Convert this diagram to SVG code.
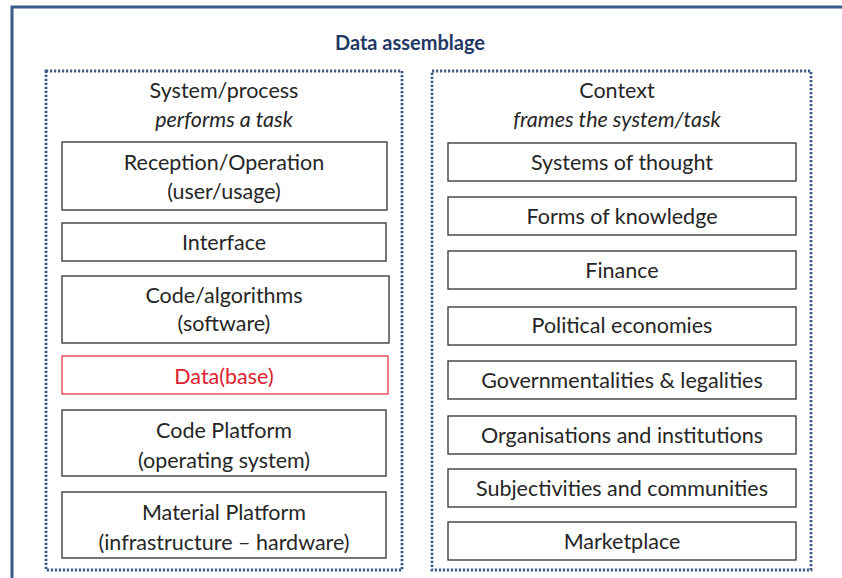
<svg xmlns="http://www.w3.org/2000/svg" width="842" height="578" viewBox="0 0 842 578">
<style>
  text { font-family: Lato, "Open Sans", "Liberation Sans", sans-serif; font-size: 21.5px; fill: #262626; text-anchor: middle; }
  .title { font-weight: bold; font-size: 20px; fill: #1f3864; }
  .it { font-style: italic; }
  .box { fill: #ffffff; stroke: #303030; stroke-width: 1.3; }
  .red { fill: #ffffff; stroke: #e03a48; stroke-width: 1.3; }
  .redt { fill: #e0202e; }
  .dot { fill: none; stroke: #3b5a85; stroke-width: 2.8; stroke-dasharray: 2.2 1.8; }
</style>
<rect x="0" y="0" width="842" height="578" fill="#ffffff"/>
<rect id="frame" x="12" y="7" width="850" height="600" fill="#ffffff" stroke="#3a5a8c" stroke-width="3"/>
<text class="title" x="410" y="50">Data assemblage</text>

<g id="system">
  <rect class="dot" x="46" y="71" width="356" height="499"/>
  <text x="224" y="98">System/process</text>
  <text class="it" x="224" y="127">performs a task</text>
</g>
<g id="context">
  <rect class="dot" x="432" y="71" width="379" height="499"/>
  <text x="617" y="98">Context</text>
  <text class="it" x="617" y="127">frames the system/task</text>
</g>

<g id="reception"><rect class="box" x="62" y="142" width="325" height="68"/><text x="224" y="170">Reception/Operation</text><text x="224" y="199">(user/usage)</text></g>
<g id="interface"><rect class="box" x="62" y="223" width="324" height="38"/><text x="224" y="250">Interface</text></g>
<g id="code"><rect class="box" x="62" y="276" width="327" height="67"/><text x="224" y="303">Code/algorithms</text><text x="224" y="331">(software)</text></g>
<g id="database"><rect class="red" x="62" y="356" width="326" height="38"/><text class="redt" x="224" y="384">Data(base)</text></g>
<g id="codeplatform"><rect class="box" x="62" y="410" width="324" height="66"/><text x="224" y="438">Code Platform</text><text x="224" y="468">(operating system)</text></g>
<g id="materialplatform"><rect class="box" x="62" y="492" width="324" height="66"/><text x="224" y="520">Material Platform</text><text x="224" y="550">(infrastructure – hardware)</text></g>

<g id="thought"><rect class="box" x="448" y="143" width="348" height="38"/><text x="622" y="170">Systems of thought</text></g>
<g id="knowledge"><rect class="box" x="448" y="197" width="348" height="38"/><text x="622" y="224">Forms of knowledge</text></g>
<g id="finance"><rect class="box" x="448" y="251" width="348" height="38"/><text x="622" y="278">Finance</text></g>
<g id="political"><rect class="box" x="448" y="307" width="348" height="38"/><text x="622" y="333">Political economies</text></g>
<g id="govern"><rect class="box" x="448" y="361" width="348" height="38"/><text x="622" y="388">Governmentalities &amp; legalities</text></g>
<g id="organisations"><rect class="box" x="448" y="416" width="348" height="38"/><text x="622" y="443">Organisations and institutions</text></g>
<g id="subjectivities"><rect class="box" x="448" y="469" width="348" height="38"/><text x="622" y="496">Subjectivities and communities</text></g>
<g id="marketplace"><rect class="box" x="448" y="522" width="348" height="38"/><text x="622" y="549">Marketplace</text></g>

<g id="connectors"></g>
</svg>
